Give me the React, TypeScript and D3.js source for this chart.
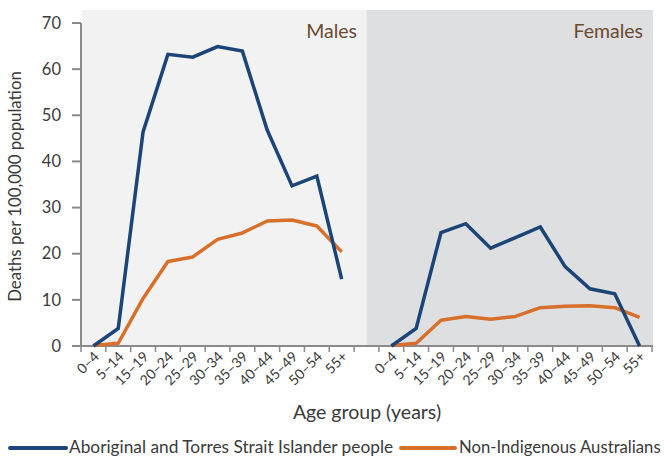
import React from "react";
import * as d3 from "d3";

const ageGroups = ["0–4", "5–14", "15–19", "20–24", "25–29", "30–34", "35–39", "40–44", "45–49", "50–54", "55+"];
const yTicks = [0, 10, 20, 30, 40, 50, 60, 70];

const malesIndigenous = [0, 3.8, 46.4, 63.2, 62.6, 64.9, 63.9, 46.8, 34.7, 36.8, 14.5];
const malesNonIndigenous = [0.1, 0.6, 10.3, 18.3, 19.3, 23.1, 24.5, 27.1, 27.3, 26.0, 20.4];
const femalesIndigenous = [0, 3.8, 24.6, 26.5, 21.2, 23.5, 25.8, 17.2, 12.4, 11.3, 0];
const femalesNonIndigenous = [0.1, 0.6, 5.6, 6.4, 5.8, 6.4, 8.3, 8.6, 8.7, 8.3, 6.2];

const seriesNames = ["Aboriginal and Torres Strait Islander people", "Non-Indigenous Australians"];
const panels = ["Males", "Females"];

const BLUE = "#1b4477";
const ORANGE = "#d86f2b";
const AXIS = "#8a8a8a";
const TEXT = "#3a3a3a";
const FONT = "Lato, 'Noto Sans', sans-serif";

export default function App() {
  const W = 665, H = 457;
  const left = 81, right = 652, top = 10, bottom = 346;
  const keys = [...ageGroups.map((a) => "M" + a), "gap", ...ageGroups.map((a) => "F" + a)];
  const x = d3.scaleBand<string>().domain(keys).range([left, right]).paddingInner(0).paddingOuter(0);
  const y = d3.scaleLinear().domain([0, 70]).range([bottom, 23]);
  const bw = x.bandwidth();
  const line = d3.line<[number, number]>().x((d) => d[0]).y((d) => d[1]);

  const mk = (prefix: string, vals: number[]) =>
    line(vals.map((v, i) => [x(prefix + ageGroups[i])! + bw / 2, y(v)] as [number, number]))!;

  const gapX = x("gap")! + bw / 2;
  const tickPositions: number[] = [];
  ageGroups.forEach((a, i) => {
    tickPositions.push(x("M" + a)!);
    if (i === ageGroups.length - 1) tickPositions.push(x("M" + a)! + bw);
  });
  ageGroups.forEach((a, i) => {
    tickPositions.push(x("F" + a)!);
    if (i === ageGroups.length - 1) tickPositions.push(x("F" + a)! + bw);
  });

  return (
    <svg width={W} height={H} style={{ position: "absolute", left: 0, top: 0, fontFamily: FONT }}>
      <rect x={left + 1} y={top} width={gapX - left - 1} height={bottom - top} fill="#f2f2f2" />
      <rect x={gapX} y={top} width={right + 1 - gapX} height={bottom - top} fill="#dedfe1" />
      <text x={357} y={38} textAnchor="end" fontSize={19.5} fill="#6b4a2e">{panels[0]}</text>
      <text x={643} y={38} textAnchor="end" fontSize={19.5} fill="#6b4a2e">{panels[1]}</text>

      {/* y axis */}
      <line x1={left} x2={left} y1={y(70)} y2={bottom} stroke={AXIS} strokeWidth={2} />
      {yTicks.map((t) => (
        <g key={t}>
          <line x1={left - 9} x2={left} y1={y(t)} y2={y(t)} stroke={AXIS} strokeWidth={2} />
          <text x={61} y={y(t)} dy="0.35em" textAnchor="end" fontSize={16.5} fill={TEXT}>{t}</text>
        </g>
      ))}
      <text transform={`translate(21,${(y(70) + bottom) / 2 + 2}) rotate(-90)`} textAnchor="middle" fontSize={16.8} fill={TEXT}>
        Deaths per 100,000 population
      </text>

      {/* x axis */}
      <line x1={left} x2={right + 1} y1={bottom} y2={bottom} stroke={AXIS} strokeWidth={2} />
      {tickPositions.map((p, i) => (
        <line key={i} x1={p} x2={p} y1={bottom} y2={bottom + 6} stroke={AXIS} strokeWidth={1.5} />
      ))}
      {keys.filter((k) => k !== "gap").map((k) => (
        <text key={k} transform={`translate(${x(k)! + bw / 2 + 3},${bottom + 8}) rotate(-45)`} textAnchor="end" dy="0.35em" fontSize={14} fill={TEXT}>
          {k.slice(1)}
        </text>
      ))}
      <text x={367} y={419} textAnchor="middle" fontSize={19.5} fill={TEXT}>Age group (years)</text>

      {/* lines */}
      <path d={mk("M", malesNonIndigenous)} fill="none" stroke={ORANGE} strokeWidth={3.5} strokeLinejoin="round" />
      <path d={mk("M", malesIndigenous)} fill="none" stroke={BLUE} strokeWidth={3.5} />
      <path d={mk("F", femalesNonIndigenous)} fill="none" stroke={ORANGE} strokeWidth={3.5} strokeLinejoin="round" />
      <path d={mk("F", femalesIndigenous)} fill="none" stroke={BLUE} strokeWidth={3.5} />

      {/* legend */}
      <line x1={10} x2={66} y1={448} y2={448} stroke={BLUE} strokeWidth={4} strokeLinecap="round" />
      <text x={69} y={452.5} fontSize={17.3} fill={TEXT}>{seriesNames[0]}</text>
      <line x1={401} x2={455} y1={448} y2={448} stroke={ORANGE} strokeWidth={4} strokeLinecap="round" />
      <text x={459} y={452.5} fontSize={16.7} fill={TEXT}>{seriesNames[1]}</text>
    </svg>
  );
}
